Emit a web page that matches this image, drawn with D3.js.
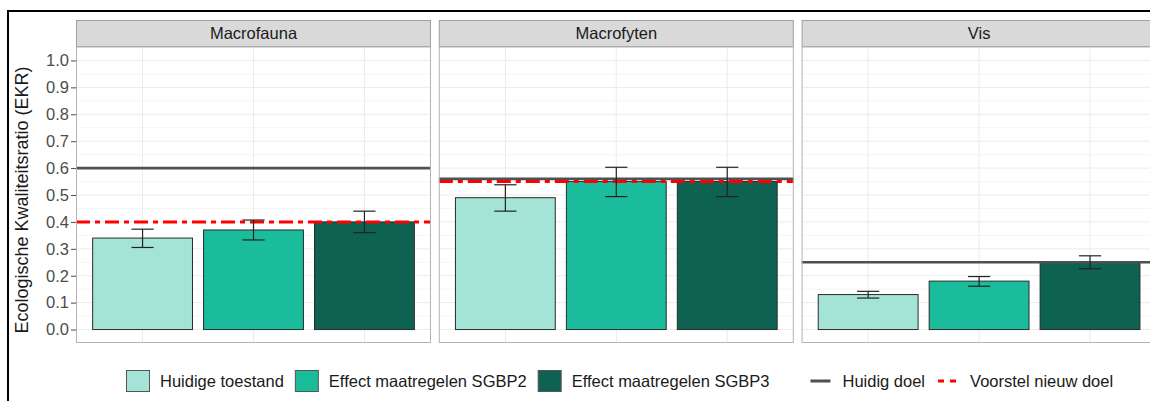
<!DOCTYPE html>
<html>
<head>
<meta charset="utf-8">
<script src="https://cdn.jsdelivr.net/npm/d3@7"></script>
<style>
  body { margin: 0; background: #fff; }
  svg { display: block; font-family: "Liberation Sans", Arial, sans-serif; }
</style>
</head>
<body>
<div id="chart"></div>
<script>
// facets and series
const categories = ["Macrofauna", "Macrofyten", "Vis"];
const series = ["Huidige toestand", "Effect maatregelen SGBP2", "Effect maatregelen SGBP3"];
const seriesColors = ["#a3e4d7", "#1abc9c", "#0e6251"];

// bar values per facet
const huidige = [0.34, 0.49, 0.13];
const sgbp2 = [0.37, 0.55, 0.18];
const sgbp3 = [0.40, 0.55, 0.25];

// error bar bounds
const huidigeLo = [0.305, 0.44, 0.117];
const huidigeHi = [0.373, 0.538, 0.142];
const sgbp2Lo = [0.333, 0.494, 0.161];
const sgbp2Hi = [0.407, 0.603, 0.197];
const sgbp3Lo = [0.36, 0.494, 0.226];
const sgbp3Hi = [0.44, 0.603, 0.274];

// targets
const huidigDoel = [0.60, 0.56, 0.25];
const voorstelDoel = [0.40, 0.55, null];

const yTicks = [0, 0.1, 0.2, 0.3, 0.4, 0.5, 0.6, 0.7, 0.8, 0.9, 1.0];
const yMinor = [0.05, 0.15, 0.25, 0.35, 0.45, 0.55, 0.65, 0.75, 0.85, 0.95];

const width = 1150, height = 401;
const panelW = 355, panelGap = 7.8;
const panelLeft = 76, stripTop = 20, stripH = 27;
const panelTop = stripTop + stripH, panelBottom = 343;
const fs = 16.5;

const svg = d3.select("#chart").append("svg")
  .attr("width", width)
  .attr("height", height);

// outer frame
svg.append("rect")
  .attr("x", 8).attr("y", 11)
  .attr("width", 1300).attr("height", 600)
  .attr("fill", "none")
  .attr("stroke", "#000")
  .attr("stroke-width", 2);

const y = d3.scaleLinear().domain([-0.05, 1.05]).range([panelBottom, panelTop]);
const x = d3.scaleBand().domain(series).range([0, panelW]).paddingInner(0.1).paddingOuter(0.15);
const capW = x.step() * 0.2;

const barVals = [huidige, sgbp2, sgbp3];
const loVals = [huidigeLo, sgbp2Lo, sgbp3Lo];
const hiVals = [huidigeHi, sgbp2Hi, sgbp3Hi];

categories.forEach((cat, ci) => {
  const px = panelLeft + ci * (panelW + panelGap);
  const g = svg.append("g").attr("transform", `translate(${px},0)`);

  // strip
  g.append("rect")
    .attr("x", 0.5).attr("y", stripTop + 0.5)
    .attr("width", panelW - 1).attr("height", stripH - 1)
    .attr("fill", "#d9d9d9").attr("stroke", "#a0a0a0");
  g.append("text")
    .attr("x", panelW / 2).attr("y", stripTop + stripH / 2)
    .attr("dy", "0.35em").attr("text-anchor", "middle")
    .attr("font-size", fs).attr("fill", "#1a1a1a")
    .text(cat);

  // grid
  g.selectAll(".minor").data(yMinor).join("line")
    .attr("x1", 0).attr("x2", panelW)
    .attr("y1", d => y(d)).attr("y2", d => y(d))
    .attr("stroke", "#f3f3f3").attr("stroke-width", 0.8);
  g.selectAll(".major").data(yTicks).join("line")
    .attr("x1", 0).attr("x2", panelW)
    .attr("y1", d => y(d)).attr("y2", d => y(d))
    .attr("stroke", "#ebebeb").attr("stroke-width", 1);
  g.selectAll(".vgrid").data(series).join("line")
    .attr("x1", d => x(d) + x.bandwidth() / 2).attr("x2", d => x(d) + x.bandwidth() / 2)
    .attr("y1", panelTop).attr("y2", panelBottom)
    .attr("stroke", "#ebebeb").attr("stroke-width", 1);

  // bars
  g.selectAll(".bar").data(series).join("rect")
    .attr("x", d => x(d))
    .attr("y", (d, si) => y(barVals[si][ci]))
    .attr("width", x.bandwidth())
    .attr("height", (d, si) => y(0) - y(barVals[si][ci]))
    .attr("fill", (d, si) => seriesColors[si])
    .attr("stroke", "#2b2b2b").attr("stroke-width", 1);

  // target lines
  g.append("line")
    .attr("x1", 0).attr("x2", panelW)
    .attr("y1", y(huidigDoel[ci])).attr("y2", y(huidigDoel[ci]))
    .attr("stroke", "#4d5151").attr("stroke-width", 2.6);
  if (voorstelDoel[ci] != null) {
    g.append("line")
      .attr("x1", 0).attr("x2", panelW)
      .attr("y1", y(voorstelDoel[ci])).attr("y2", y(voorstelDoel[ci]))
      .attr("stroke", "#ff0000").attr("stroke-width", 3)
      .attr("stroke-dasharray", "14,5,5,5");
  }

  // error bars
  series.forEach((s, si) => {
    const cx = x(s) + x.bandwidth() / 2;
    const lo = y(loVals[si][ci]), hi = y(hiVals[si][ci]);
    const eg = g.append("g").attr("stroke", "#222").attr("stroke-width", 1.2);
    eg.append("line").attr("x1", cx).attr("x2", cx).attr("y1", lo).attr("y2", hi);
    eg.append("line").attr("x1", cx - capW / 2).attr("x2", cx + capW / 2).attr("y1", lo).attr("y2", lo);
    eg.append("line").attr("x1", cx - capW / 2).attr("x2", cx + capW / 2).attr("y1", hi).attr("y2", hi);
  });

  // panel border
  g.append("rect")
    .attr("x", 0.5).attr("y", panelTop)
    .attr("width", panelW - 1).attr("height", panelBottom - panelTop - 0.5)
    .attr("fill", "none").attr("stroke", "#b3b3b3");

  // y axis on first panel only
  if (ci === 0) {
    const axis = g.append("g")
      .call(d3.axisLeft(y).tickValues(yTicks).tickFormat(d3.format(".1f")).tickSize(5).tickPadding(2));
    axis.select(".domain").remove();
    axis.selectAll(".tick line").attr("stroke", "#4d4d4d");
    axis.selectAll(".tick text").attr("font-size", fs).attr("fill", "#4d4d4d")
      .attr("font-family", "Liberation Sans, Arial, sans-serif");
  }
});

// y axis title
svg.append("text")
  .attr("transform", `translate(28,${(panelTop + panelBottom) / 2 + 5}) rotate(-90)`)
  .attr("text-anchor", "middle")
  .attr("font-size", 18).attr("fill", "#1a1a1a")
  .text("Ecologische Kwaliteitsratio (EKR)");

// legend
const legend = svg.append("g");
const keyW = 24, keyH = 22, legY = 370;
let lx = 126;
series.forEach((s, si) => {
  legend.append("rect")
    .attr("x", lx + 0.5).attr("y", legY + 0.5)
    .attr("width", keyW - 1).attr("height", keyH - 1)
    .attr("fill", seriesColors[si]).attr("stroke", "#555").attr("stroke-width", 1);
  const t = legend.append("text")
    .attr("x", lx + keyW + 10).attr("y", legY + keyH / 2)
    .attr("dy", "0.35em").attr("font-size", fs).attr("fill", "#1a1a1a")
    .text(s);
  lx += keyW + 10 + t.node().getComputedTextLength() + 11;
});
lx += 28;
const lineKeys = [
  { label: "Huidig doel", color: "#4d5151", dash: null, w: 3 },
  { label: "Voorstel nieuw doel", color: "#ff0000", dash: "6,6", w: 3 }
];
lineKeys.forEach(k => {
  legend.append("line")
    .attr("x1", lx + 2).attr("x2", lx + keyW - 2)
    .attr("y1", legY + keyH / 2).attr("y2", legY + keyH / 2)
    .attr("stroke", k.color).attr("stroke-width", k.w)
    .attr("stroke-dasharray", k.dash);
  const t = legend.append("text")
    .attr("x", lx + keyW + 10).attr("y", legY + keyH / 2)
    .attr("dy", "0.35em").attr("font-size", fs).attr("fill", "#1a1a1a")
    .text(k.label);
  lx += keyW + 10 + t.node().getComputedTextLength() + 11;
});
</script>
</body>
</html>
